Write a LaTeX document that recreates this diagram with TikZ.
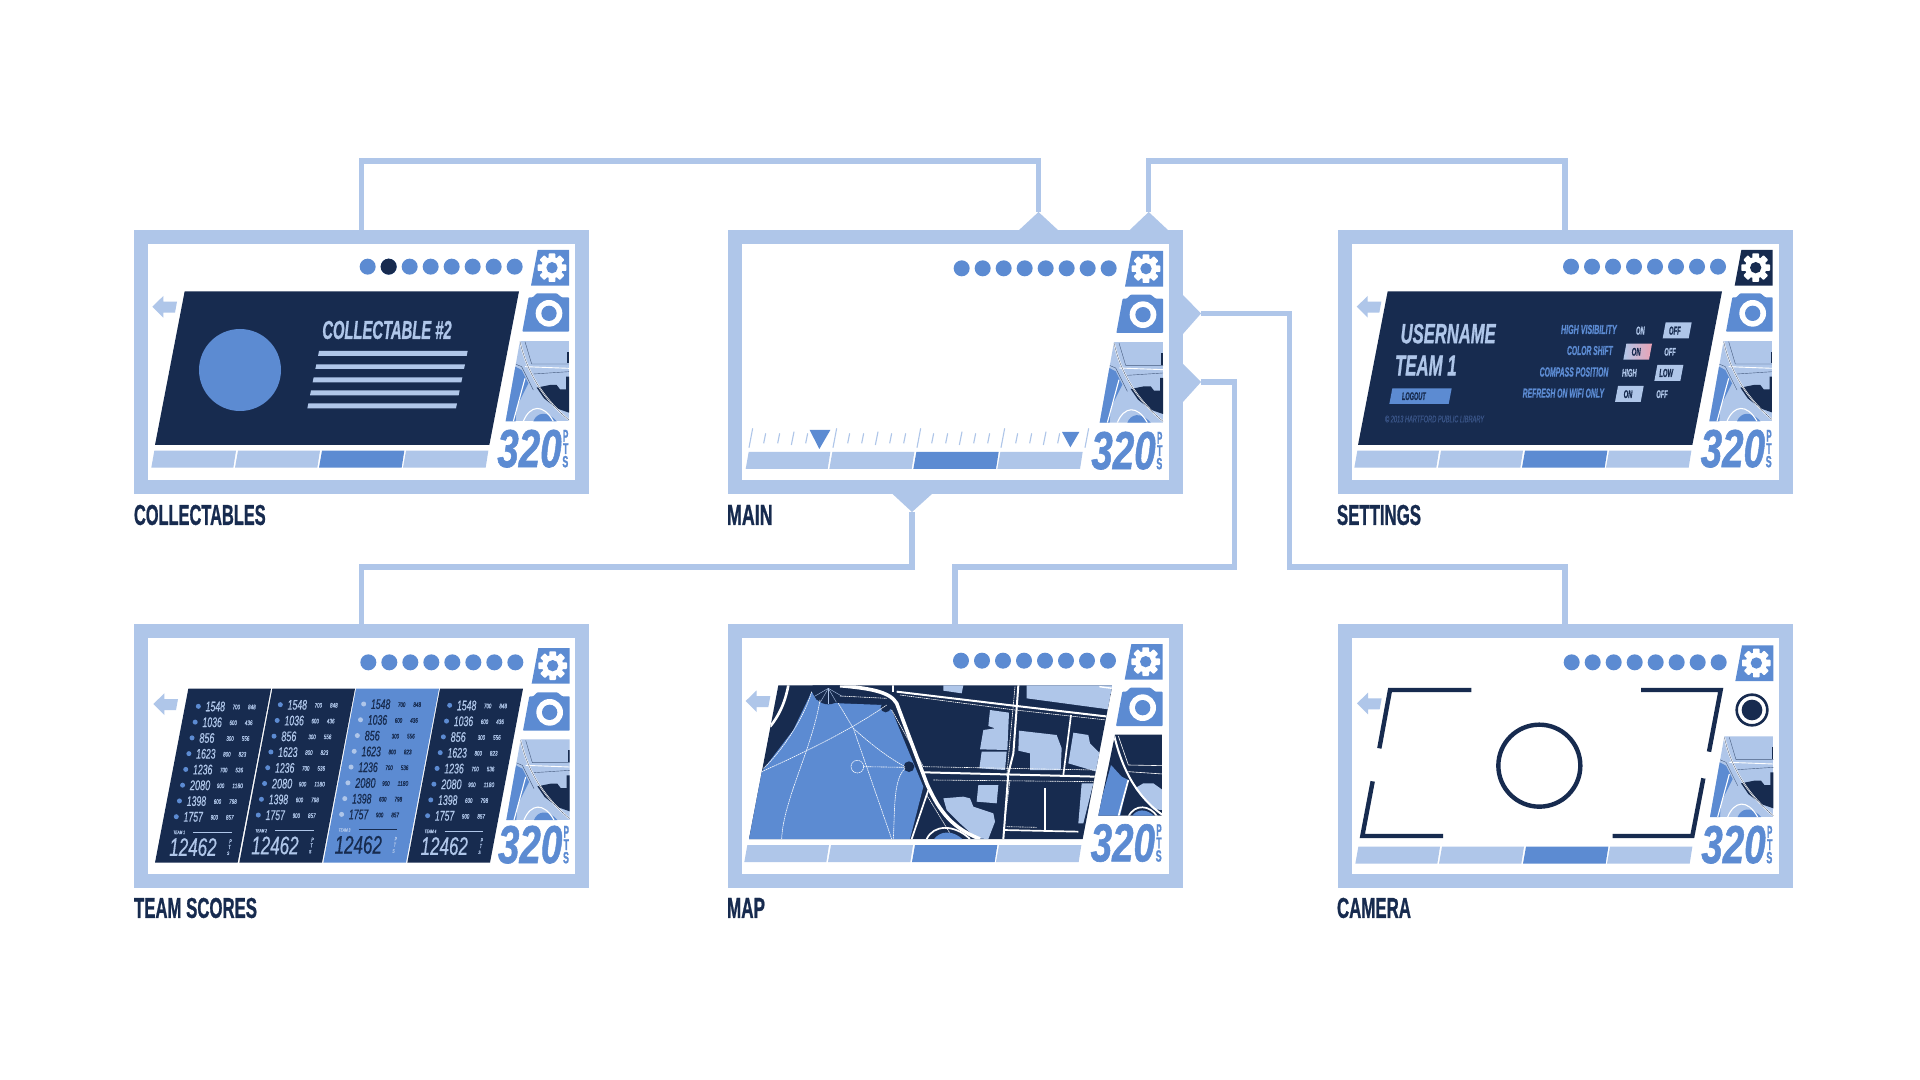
\documentclass[tikz,border=0pt]{standalone}
\usepackage{fontspec}
\usepackage{graphicx}
\setmainfont{Liberation Sans}
\newfontfamily\heavyf[FakeBold=1.2]{Liberation Sans}
\newfontfamily\medf[FakeBold=0.6]{Liberation Sans}
\definecolor{lite}{HTML}{AFC6E9}
\definecolor{mid}{HTML}{5C8BD2}
\definecolor{navy}{HTML}{172B4F}
\definecolor{dim}{HTML}{3A5588}
\definecolor{rosy}{HTML}{EBA3B5}
\newcounter{txn}
\newcommand\fL{\heavyf\bfseries}
\newcommand\fI{\heavyf\bfseries\itshape}
\newcommand\fN{\medf\itshape}
% font, x1, y1, x2, y2, colour, text  (in crop units: 1 unit = 1/6 pt)
\newcommand\tx[7]{%
  \pgfmathsetmacro\rw{(#4-(#2))/6}%
  \pgfmathsetmacro\rh{(#5-(#3))/6}%
  \pgfmathsetmacro\cx{((#2)+(#4))/2}%
  \pgfmathsetmacro\cy{((#3)+(#5))/2}%
  \stepcounter{txn}%
  \node[name=t\arabic{txn},inner sep=0pt,outer sep=0pt,text=#6] at (\cx,\cy) {\resizebox{\rw pt}{\rh pt}{#1#7}};%
}
\tikzset{
  frame/.style={draw=lite,fill=white,line width=7pt,minimum width=220.5pt,minimum height=125pt,inner sep=0pt},
  conn/.style={draw=lite,line width=2.75pt,line join=miter},
  crop/.style={scale=1/3},
}
\newcommand\dotsrow[3]{\begin{scope}[shift={(#1,#2)}]
  \foreach \i in {0,...,7}{\fill[mid] ({743+63*\i},140) circle[radius=24];}
  #3\end{scope}}
\newcommand\gearbox[4]{\begin{scope}[shift={(#1,#2)}]
  \fill[#3] (1253,90)--(1347,90)--(1347,197)--(1233,197)--cycle;
  \foreach \a in {0,45,...,315}{\fill[white,rotate around={\a:(1296,143)},rounded corners=.4pt] (1286,100) rectangle (1306,143);}
  \fill[white] (1296,143) circle[radius=32];
  \fill[#4] (1296,143) circle[radius=17];
\end{scope}}
\newcommand\cam[2]{\begin{scope}[shift={(#1,#2)}]
  \fill[mid,rounded corners=.4pt] (1207,335)--(1226,232)--(1238,232)--(1250,220)--(1310,220)--(1325,232)--(1347,232)--(1347,335)--cycle;
  \fill[white] (1287,280) circle[radius=40];
  \fill[mid] (1287,280) circle[radius=23];
\end{scope}}
\newcommand\mini[2]{\begin{scope}[shift={(#1,#2)}]
  \begin{scope}
  \clip (1200,362)--(1347,362)--(1347,604)--(1157,604)--cycle;
  \fill[lite] (1150,362) rectangle (1347,604);
  \fill[mid] (1186,440)--(1205,450)--(1225,490)--(1205,530)--(1190,560)--(1187,604)--(1150,604)--cycle;
  \fill[mid] (1240,604) .. controls (1250,578) and (1280,570) .. (1310,604)--cycle;
  \fill[navy] (1250,503)--(1290,495)--(1310,495)--(1320,508)--(1338,508)--(1338,470)--(1347,470)--(1347,578)--(1310,565)--(1272,535)--cycle;
  \fill[navy] (1342,395) rectangle (1347,430);
  \draw[navy!70!lite,line width=.2pt] (1215,365)--(1235,432)--(1347,432);
  \draw[navy!70!lite,line width=.2pt] (1240,462)--(1347,455);
  \draw[navy!70!lite,line width=.2pt] (1186,432)--(1205,440)--(1240,510);
  \draw[white,line width=.75pt] (1200,365) .. controls (1215,430) and (1250,520) .. (1347,600);
  \draw[white,line width=.55pt] (1215,475)--(1180,604);
  \draw[white,line width=.55pt] (1210,604) .. controls (1230,555) and (1270,550) .. (1300,604);
  \draw[white,line width=.45pt] (1215,440)--(1347,445);
  \draw[navy,line width=.12pt] (1200,365) .. controls (1215,430) and (1250,520) .. (1347,600);
  \end{scope}
\end{scope}}
\newcommand\ptsval[2]{\begin{scope}[shift={(#1,#2)}]
  \tx{\fI}{1132}{630}{1325}{742}{mid}{320}
  \tx{\fL}{1329}{630}{1345}{665}{mid}{P}
  \tx{\fL}{1329}{670}{1345}{702}{mid}{T}
  \tx{\fL}{1327}{708}{1345}{742}{mid}{S}
\end{scope}}
\newcommand\barsrow[2]{\begin{scope}[shift={(#1,#2)}]
  \fill[lite] (103,692)--(348,692)--(340,743)--(94,743)--cycle;
  \fill[lite] (354,692)--(600,692)--(592,743)--(345,743)--cycle;
  \fill[mid] (606,692)--(853,692)--(845,743)--(597,743)--cycle;
  \fill[lite] (858,692)--(1105,692)--(1097,743)--(849,743)--cycle;
\end{scope}}
\newcommand\backarrow[2]{\begin{scope}[shift={(#1,#2)}]
  \fill[lite] (97,260)--(130,228)--(130,245)--(171,245)--(165,278)--(130,278)--(130,293)--cycle;
\end{scope}}
\newcommand\panel{\fill[navy] (194,214)--(1197,214)--(1108,675)--(105,675)--cycle;}
\newcommand\pbox[5]{\fill[#5] ({#1+9},#2)--(#3,#2)--({#3-9},#4)--(#1,#4)--cycle;}
\newcommand\teamcol[6]{\begin{scope}[shift={(#1,#2)}]
  \foreach \i/\bg/\sa/\sb/\wb/\wc in {0/1548/700/848/58/23,1/1036/600/436/58/23,2/856/300/556/45/23,3/1623/800/823/58/23,4/1236/700/536/58/23,5/2080/900/1180/61/32,6/1398/600/798/58/23,7/1757/900/857/58/23}{
    \pgfmathsetmacro\dx{235-9.45*\i}
    \pgfmathsetmacro\dy{259+47.3*\i}
    \fill[#4] (\dx,\dy) circle[radius=7.5];
    \tx{\fN}{\dx+22}{\dy-14}{\dx+22+\wb}{\dy+15}{#3}{\bg}
    \tx{\fN}{\dx+103}{\dy-5}{\dx+125}{\dy+9}{#3}{\sa}
    \tx{\fN}{\dx+149}{\dy-5}{\dx+149+\wc}{\dy+9}{#3}{\sb}
  }
  \tx{\fN}{160}{632}{195}{642}{lite}{TEAM #6}
  \draw[#5,line width=.35pt] (220,636)--(336,636);
  \tx{\fN}{148}{655}{290}{708}{#3}{12462}
  \tx{\fN}{328}{658}{335}{670}{lite}{P}
  \tx{\fN}{325}{675}{332}{687}{lite}{T}
  \tx{\fN}{321}{695}{328}{705}{lite}{S}
\end{scope}}
\begin{document}
\begin{tikzpicture}[x=0.5pt,y=-0.5pt]
\path[use as bounding box,fill=white] (0,0) rectangle (1920,1080);

% frames
\node[frame] (fcoll) at (361.5,362) {};
\node[frame] (fmain) at (955,362) {};
\node[frame] (fset) at (1565,362) {};
\node[frame] (fteam) at (361.5,756) {};
\node[frame] (fmap) at (955,756) {};
\node[frame] (fcam) at (1565,756) {};

% connector hubs
\coordinate (m1) at (1038.5,212);
\coordinate (m2) at (1148.7,212);
\coordinate (m3) at (1201,313.5);
\coordinate (m4) at (1201,382);
\coordinate (m5) at (912,512);
\coordinate (r1) at (1038.5,161);
\coordinate (r2) at (1148.7,161);
\coordinate (r3) at (1289.6,567);
\coordinate (r4) at (1234.5,567);
\coordinate (r5) at (361.5,567);
\fill[lite] (m1)--(1018,231)--(1059,231)--cycle;
\fill[lite] (m2)--(1128.7,231)--(1169,231)--cycle;
\fill[lite] (m3)--(1182,294)--(1182,335)--cycle;
\fill[lite] (m4)--(1182,363)--(1182,403)--cycle;
\fill[lite] (m5)--(891.5,493)--(933,493)--cycle;
\draw[conn] (fcoll.north) |- (r1) -- (m1);
\draw[conn] (fset.north) |- (r2) -- (m2);
\draw[conn] (m3) -| (r3) -| (fcam.north);
\draw[conn] (m4) -| (r4) -| (fmap.north);
\draw[conn] (m5) |- (r5) -- (fteam.north);

% labels
\begin{scope}[crop]
\tx{\fL}{402}{1515}{797}{1575}{navy}{COLLECTABLES}
\tx{\fL}{2181}{1515}{2318}{1575}{navy}{MAIN}
\tx{\fL}{4011}{1515}{4263}{1575}{navy}{SETTINGS}
\tx{\fL}{402}{2694}{771}{2754}{navy}{TEAM SCORES}
\tx{\fL}{2181}{2694}{2295}{2754}{navy}{MAP}
\tx{\fL}{4011}{2694}{4233}{2754}{navy}{CAMERA}
\end{scope}

% ---------- COLLECTABLES
\begin{scope}[shift={(120,220)},crop]
\dotsrow{0}{0}{\fill[navy] (806,140) circle[radius=24];}
\gearbox{0}{0}{mid}{mid}
\cam{0}{0}
\mini{0}{0}
\ptsval{0}{0}
\barsrow{0}{0}
\backarrow{0}{0}
\panel
\fill[mid] (360,450) circle[radius=123];
\tx{\fI}{607}{303}{995}{357}{lite}{COLLECTABLE \#2}
\fill[lite] (597,393)--(1043,393)--(1040,408)--(594,408)--cycle;
\fill[lite] (589,433)--(1035,433)--(1032,447)--(586,447)--cycle;
\fill[lite] (581,472)--(1027,472)--(1024,487)--(578,487)--cycle;
\fill[lite] (573,511)--(1019,511)--(1016,526)--(570,526)--cycle;
\fill[lite] (565,550)--(1011,550)--(1008,565)--(562,565)--cycle;
\end{scope}

% ---------- MAIN
\begin{scope}[shift={(713,220)},crop]
\dotsrow{3}{5}{}
\gearbox{3}{3}{mid}{mid}
\cam{3}{4}
\mini{3}{4}
\ptsval{3}{6}
\barsrow{4}{4}
\foreach \i in {0,1,2,3,4}{\draw[lite,line width=.55pt] ({119+252*\i},625)--({108+252*\i},683);}
\foreach \i/\js in {0/{1,2,4},1/{1,2,4,5},2/{1,2,4,5},3/{1,2,4}}{
  \foreach \j in \js {
    \draw[lite,line width=.55pt] ({116+252*\i+42*\j},640)--({110+252*\i+42*\j},670);
  }
  \draw[lite,line width=.55pt] ({117+252*\i+126},635)--({109+252*\i+126},675);
}
\fill[mid] (290,630)--(352,630)--(319,687)--cycle;
\fill[mid] (1047,636)--(1099,636)--(1072,682)--cycle;
\end{scope}

% ---------- SETTINGS
\begin{scope}[shift={(1323,220)},crop]
\dotsrow{1}{0}{}
\gearbox{2}{0}{navy}{navy}
\cam{2}{0}
\mini{2}{0}
\ptsval{1}{0}
\barsrow{0}{0}
\backarrow{4}{0}
\panel
\begin{scope}[shift={(21,0)}]
\tx{\fI}{212}{312}{497}{370}{lite}{USERNAME}
\tx{\fI}{195}{407}{380}{466}{lite}{TEAM 1}
\pbox{178}{505}{365}{552}{mid}
\tx{\fI}{216}{517}{287}{540}{navy}{LOGOUT}
\tx{\fN}{165}{587}{462}{607}{dim}{© 2013 HARTFORD PUBLIC LIBRARY}
\tx{\fI}{693}{315}{860}{342}{mid}{HIGH VISIBILITY}
\tx{\fI}{918}{320}{944}{344}{lite}{ON}
\pbox{998}{307}{1085}{355}{lite}
\tx{\fI}{1017}{320}{1052}{344}{navy}{OFF}
\tx{\fI}{711}{378}{848}{405}{mid}{COLOR SHIFT}
\shade[left color=lite,right color=rosy] (889,371)--(966,371)--(957,419)--(880,419)--cycle;
\tx{\fI}{905}{384}{932}{407}{navy}{ON}
\tx{\fI}{1003}{384}{1037}{407}{lite}{OFF}
\tx{\fI}{629}{442}{835}{470}{mid}{COMPASS POSITION}
\tx{\fI}{876}{447}{920}{470}{lite}{HIGH}
\pbox{973}{435}{1060}{483}{lite}
\tx{\fI}{988}{447}{1029}{471}{navy}{LOW}
\tx{\fI}{578}{506}{822}{533}{mid}{REFRESH ON WIFI ONLY}
\pbox{855}{498}{941}{546}{lite}
\tx{\fI}{881}{511}{907}{534}{navy}{ON}
\tx{\fI}{979}{511}{1013}{534}{lite}{OFF}
\end{scope}
\end{scope}

% ---------- TEAM SCORES
\begin{scope}[shift={(120,614)},crop]
\dotsrow{2}{5}{}
\gearbox{2}{12}{mid}{mid}
\cam{2}{15}
\mini{2}{14}
\ptsval{2}{6}
\backarrow{3}{10}
\begin{scope}[shift={(0,18)}]
\fill[navy] (205,206)--(453,206)--(353,728)--(105,728)--cycle;
\fill[navy] (457,206)--(705,206)--(606,728)--(358,728)--cycle;
\fill[mid] (708,206)--(957,206)--(858,728)--(610,728)--cycle;
\fill[navy] (960,206)--(1209,206)--(1110,728)--(862,728)--cycle;
\teamcol{0}{0}{lite}{mid}{lite}{1}
\teamcol{246}{-5}{lite}{mid}{lite}{2}
\teamcol{496}{-7}{navy}{lite}{navy}{3}
\teamcol{754}{-3}{lite}{mid}{lite}{4}
\end{scope}
\end{scope}

% ---------- MAP
\begin{scope}[shift={(713,614)},crop]
\dotsrow{1}{0}{}
\gearbox{2}{0}{mid}{mid}
\cam{2}{1}
\ptsval{1}{1}
\barsrow{0}{1}
\backarrow{1}{1}
\begin{scope}[shift={(21,18)}]
 \begin{scope}
 \clip (175,196)--(1177,196)--(1088,657)--(87,657)--cycle;
 \fill[navy] (80,190) rectangle (1180,660);
 \fill[mid] (275,215)--(290,240)--(360,250)--(490,255)--(515,270)--(560,380)--(610,500)--(570,657)--(80,657)--(125,455)--(220,330)--cycle;
 \fill[navy] (325,205) circle[radius=48];
 \fill[navy] (497,262) circle[radius=15];
 \fill[navy] (567,440) circle[radius=16];
 \foreach \p in {
   {(920,196)--(1177,196)--(1165,268)--(920,235)},
   {(810,270)--(867,278)--(862,390)--(780,388)--(790,330)--(825,325)--(805,318)},
   {(785,395)--(860,395)--(855,450)--(778,445)},
   {(897,332)--(1010,345)--(1025,385)--(1022,450)--(930,450)--(930,400)--(895,392)},
   {(1060,338)--(1105,345)--(1110,370)--(1140,400)--(1130,455)--(1045,430)},
   {(775,495)--(835,495)--(830,550)--(770,545)},
   {(670,535)--(730,530)--(750,535)--(760,560)--(820,580)--(825,605)--(805,657)--(770,655)--(720,610)--(680,570)},
   {(1085,490)--(1120,490)--(1090,610)--(1075,610)},
   {(670,196)--(730,196)--(725,220)--(670,212)}}{
   \fill[lite] \p--cycle;
 }
 \foreach \a in {-60,-30,0,30,60}{\draw[lite,line width=.2pt,rotate around={\a:(325,205)}] (325,205)--(325,253);}
 \begin{scope}[white,line width=.3pt,dash pattern=on .8pt off .3pt]
 \draw (125,455) .. controls (270,390) and (400,325) .. (500,255);
 \draw (300,240) .. controls (275,390) and (190,540) .. (185,657);
 \draw (355,250) -- (400,325) -- (515,657);
 \draw (400,325) .. controls (450,370) and (500,410) .. (555,440);
 \draw (430,440) -- (555,442);
 \draw (555,445) .. controls (520,480) and (525,560) .. (520,657);
 \draw (130,445) .. controls (180,400) and (250,300) .. (275,215);
 \draw (412,440) circle[radius=19];
 \draw (540,225) -- (885,270) -- (1160,300);
 \draw (515,270) -- (610,440) -- (1125,450);
 \draw (640,480) -- (1125,485);
 \draw (885,200) -- (860,470);
 \draw (870,480) -- (850,640);
 \draw (620,525) -- (690,640);
 \draw (360,228) -- (500,235);
 \draw (860,620) -- (950,622);
 \end{scope}
 \draw[white,line width=1.8pt] (360,197) .. controls (450,205) and (510,215) .. (530,250) -- (620,490) .. controls (660,580) and (700,625) .. (780,657);
 \draw[white,line width=1pt] (530,215) -- (890,258) -- (1165,290);
 \draw[white,line width=1pt] (518,196) -- (518,215);
 \draw[white,line width=1.3pt] (205,196) .. controls (195,250) and (175,290) .. (150,320);
 \draw[white,line width=1pt] (895,196) -- (880,400) -- (865,460) -- (850,657);
 \draw[white,line width=1pt] (612,457) -- (1130,470);
 \draw[white,line width=.85pt] (1053,285) -- (1030,465);
 \draw[white,line width=.7pt] (975,505) -- (975,630);
 \draw[white,line width=.85pt] (850,630) -- (1075,635);
 \draw[white,line width=.85pt] (625,510) -- (575,657);
 \draw[white,line width=.7pt] (1138,200) -- (1177,205);
 \fill[mid] (640,660) .. controls (660,630) and (700,630) .. (730,660) -- cycle;
 \draw[white,line width=.85pt] (620,657) .. controls (640,615) and (700,610) .. (750,657);
 \end{scope}
 % small map
 \begin{scope}
 \clip (1185,344)--(1328,344)--(1328,587)--(1135,587)--cycle;
 \fill[navy] (1130,340) rectangle (1330,590);
 \fill[mid] (1173,435)--(1205,470)--(1225,480)--(1200,590)--(1130,590)--cycle;
 \fill[lite] (1245,505)--(1270,490)--(1300,490)--(1328,510)--(1328,570)--(1300,568)--(1265,530)--cycle;
 \fill[mid] (1235,590) .. controls (1250,565) and (1280,565) .. (1305,590)--cycle;
 \draw[white,line width=1pt] (1183,348) .. controls (1200,420) and (1235,520) .. (1328,585);
 \draw[white,line width=.85pt] (1225,480)--(1195,590);
 \draw[white,line width=.85pt] (1225,590) .. controls (1245,550) and (1290,555) .. (1312,590);
 \draw[white,line width=.3pt] (1225,435)--(1328,437);
 \draw[white,line width=.3pt] (1195,348)--(1225,435);
 \draw[white,line width=.3pt] (1225,455)--(1328,462);
 \end{scope}
\end{scope}
\end{scope}

% ---------- CAMERA
\begin{scope}[shift={(1323,614)},crop]
\dotsrow{3}{5}{}
\gearbox{4}{4}{mid}{mid}
\mini{4}{5}
\ptsval{3}{6}
\barsrow{3}{6}
\backarrow{5}{8}
\begin{scope}[shift={(21,18)}]
\draw[navy,line width=2.2pt] (424,210)--(180,210)--(148,385);
\draw[navy,line width=2.2pt] (933,210)--(1172,210)--(1137,395);
\draw[navy,line width=2.2pt] (128,484)--(97,648)--(339,648);
\draw[navy,line width=2.2pt] (1120,475)--(1087,648)--(848,648);
\draw[navy,line width=2.2pt] (628,437) circle[radius=123];
\draw[navy,line width=1.3pt] (1266,270) circle[radius=46];
\fill[navy] (1266,270) circle[radius=31];
\end{scope}
\end{scope}
\end{tikzpicture}
\end{document}
